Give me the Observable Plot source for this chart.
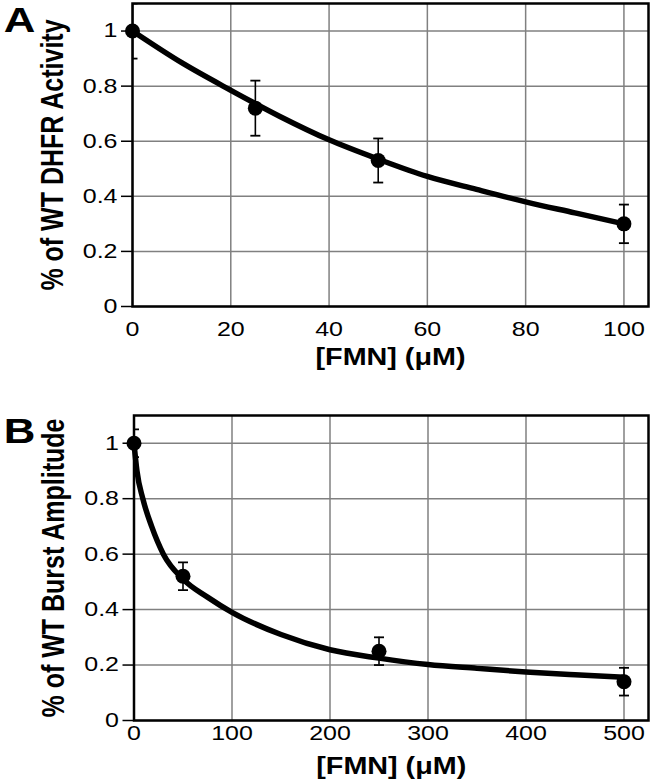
<!DOCTYPE html>
<html><head><meta charset="utf-8">
<script src="https://cdn.jsdelivr.net/npm/d3@7"></script>
<script src="https://cdn.jsdelivr.net/npm/@observablehq/plot@0.6"></script>
<style>body{margin:0;background:#fff;} svg{display:block;}</style>
</head><body><div id="chart"></div>
<script>
// ---- Panel A data ----
const concA = [0, 25, 50, 100];
const activityA = [1.0, 0.72, 0.53, 0.30];
const errA = [0.10, 0.10, 0.08, 0.07];
const fitConcA = [0, 10, 20, 30, 40, 50, 60, 70, 80, 90, 100];
const fitActivityA = [1.0, 0.885, 0.785, 0.69, 0.605, 0.535, 0.472, 0.425, 0.38, 0.34, 0.30];
const xTicksA = [0, 20, 40, 60, 80, 100];
const xMaxA = 105;
// ---- Panel B data ----
const concB = [0, 50, 250, 500];
const burstB = [1.0, 0.52, 0.25, 0.14];
const errB = [0.05, 0.05, 0.05, 0.05];
const fitConcB = [0, 3, 9, 18, 30, 50, 75, 100, 150, 200, 250, 300, 350, 400, 450, 500];
const fitBurstB = [1.0, 0.9, 0.8, 0.7, 0.6, 0.51, 0.445, 0.39, 0.31, 0.255, 0.225, 0.202, 0.188, 0.175, 0.165, 0.156];
const xTicksB = [0, 100, 200, 300, 400, 500];
const xMaxB = 525;
// ---- shared ----
const yTicks = [0, 0.2, 0.4, 0.6, 0.8, 1];
const yTickLabels = ["0", "0.2", "0.4", "0.6", "0.8", "1"];
const xLabel = "[FMN] (\u03BCM)";
const yLabelA = "% of WT DHFR Activity";
const yLabelB = "% of WT Burst Amplitude";

const FONT = "'Liberation Sans', Arial, Helvetica, sans-serif";
const STRETCH = 1.25;

const capSymbol = {
  draw(ctx, size) {
    const r = Math.sqrt(size / Math.PI);
    ctx.moveTo(-r, 0);
    ctx.lineTo(r, 0);
  }
};

function panel(o) {
  const pts = o.x.map((x, i) => ({x, y: o.y[i], lo: o.y[i] - o.err[i], hi: o.y[i] + o.err[i]}));
  const fit = o.fx.map((x, i) => ({x, y: o.fy[i]}));
  const grid = {stroke: "#808080", strokeOpacity: 1, strokeWidth: 1.5};
  const svg = Plot.plot({
    width: 650,
    height: o.height,
    marginTop: o.marginTop,
    marginBottom: o.marginBottom,
    marginLeft: o.marginLeft,
    marginRight: 2,
    style: {fontFamily: FONT, background: "white", color: "black"},
    x: {domain: [0, o.xMax]},
    y: {domain: [0, 1.1]},
    marks: [
      Plot.gridX(o.xTicks, grid),
      Plot.gridY(yTicks, grid),
      Plot.axisY(yTicks, {tickSize: 11, tickPadding: 4, strokeWidth: 1.5, fontSize: 20,
        tickFormat: (d) => yTickLabels[yTicks.indexOf(d)], label: null}),
      Plot.axisX(o.xTicks, {tickSize: 0, tickPadding: o.tickPad, fontSize: 20,
        tickFormat: (d) => String(d), label: null}),
      Plot.ruleX(pts, {x: "x", y1: "lo", y2: "hi", stroke: "black", strokeWidth: 1.6, clip: true}),
      Plot.dot(pts, {x: "x", y: "lo", symbol: capSymbol, r: 5, fill: "none", stroke: "black", strokeWidth: 1.8, clip: true}),
      Plot.dot(pts, {x: "x", y: "hi", symbol: capSymbol, r: 5, fill: "none", stroke: "black", strokeWidth: 1.8, clip: true}),
      Plot.line(fit, {x: "x", y: "y", curve: "monotone-x", stroke: "black", strokeWidth: 5.5}),
      Plot.dot(pts, {x: "x", y: "y", r: 7.5, fill: "black", stroke: "none"}),
      Plot.frame({stroke: "black", strokeWidth: 2.5}),
      Plot.text([o.yLabel], {frameAnchor: "left", dx: -80, rotate: -90, fontSize: 25, fontWeight: "bold",
        textAnchor: "middle", lineAnchor: "middle", fill: "black"}),
      Plot.text([xLabel], {frameAnchor: "bottom", dy: o.labelDy, fontSize: 23, fontWeight: "bold",
        textAnchor: "middle", lineAnchor: "middle", fill: "black"}),
      Plot.text([o.letter], {frameAnchor: "top-left", dx: 19 - o.marginLeft, dy: o.letterDy, fontSize: 35,
        fontWeight: "bold", textAnchor: "middle", lineAnchor: "middle", fill: "black"})
    ]
  });
  // horizontal stretch of the lettering, as in the reference figure
  d3.select(svg).selectAll("text").each(function () {
    const t = this.getAttribute("transform") || "";
    if (t.includes("translate")) {
      this.setAttribute("transform", t + (t.includes("rotate") ? ` scale(1,${STRETCH})` : ` scale(${STRETCH},1)`));
    } else {
      const x = +this.getAttribute("x") || 0, y = +this.getAttribute("y") || 0;
      this.setAttribute("transform", `translate(${x},${y}) scale(${STRETCH},1) translate(${-x},${-y})`);
    }
  });
  return svg;
}

const root = document.getElementById("chart");
root.appendChild(panel({
  letter: "A", x: concA, y: activityA, err: errA, fx: fitConcA, fy: fitActivityA,
  xTicks: xTicksA, xMax: xMaxA, yLabel: yLabelA,
  height: 385, marginTop: 3, marginBottom: 79, marginLeft: 132, tickPad: 15, labelDy: 51, letterDy: 17
}));
root.appendChild(panel({
  letter: "B", x: concB, y: burstB, err: errB, fx: fitConcB, fy: fitBurstB,
  xTicks: xTicksB, xMax: xMaxB, yLabel: yLabelB,
  height: 396, marginTop: 30, marginBottom: 61, marginLeft: 133.5, tickPad: 5, labelDy: 46, letterDy: 16
}));
</script>
</body></html>
